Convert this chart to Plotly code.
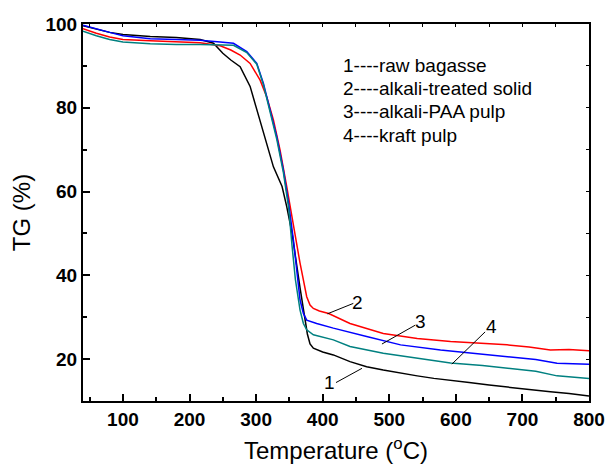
import plotly.graph_objects as go

# ---- data ----
t_raw = [40, 60, 80, 100, 141, 180, 216, 236, 250, 262, 276, 291, 306, 316, 326, 339, 346, 354,
         360, 366, 372, 377, 381, 386, 400, 416, 441, 466, 491, 517, 542, 567, 592, 620, 650,
         677, 710, 742, 770, 800]
tg_raw = [99.6, 98.8, 98.0, 97.5, 97.0, 96.8, 96.3, 95.4, 93.0, 91.4, 89.8, 85.1, 77.1, 71.6,
          65.9, 61.2, 56.4, 50.0, 43.0, 37.0, 31.0, 26.0, 23.6, 22.6, 21.7, 21.0, 19.4, 18.2,
          17.4, 16.6, 16.0, 15.4, 15.0, 14.4, 13.8, 13.3, 12.8, 12.2, 11.8, 11.2]

t_alk = [40, 60, 80, 100, 141, 180, 216, 246, 262, 276, 291, 306, 316, 326, 336, 346, 356, 366,
         376, 381, 386, 395, 409, 441, 491, 542, 592, 640, 677, 710, 742, 770, 800]
tg_alk = [98.9, 97.8, 96.9, 96.3, 96.0, 95.7, 95.5, 94.8, 93.8, 92.6, 90.6, 86.6, 82.6, 77.1,
          69.9, 61.2, 51.6, 42.9, 34.9, 32.9, 32.1, 31.5, 30.9, 28.5, 26.1, 24.9, 24.2, 23.8,
          23.4, 22.9, 22.2, 22.3, 22.0]

t_paa = [40, 60, 80, 100, 141, 180, 216, 246, 266, 286, 301, 311, 321, 331, 341, 349, 356, 361,
         366, 371, 376, 391, 416, 466, 517, 577, 640, 677, 720, 752, 800]
tg_paa = [99.7, 98.8, 98.0, 97.2, 96.5, 96.3, 96.1, 95.7, 95.4, 93.4, 90.6, 85.8, 79.5, 73.1,
          65.1, 57.0, 48.5, 41.0, 34.1, 30.9, 29.3, 28.5, 27.4, 25.4, 23.4, 22.2, 21.2, 20.6,
          19.9, 19.0, 18.8]

t_kraft = [40, 60, 80, 100, 141, 180, 216, 246, 266, 286, 301, 311, 321, 331, 341, 349, 354, 359,
           366, 371, 376, 386, 416, 441, 491, 542, 592, 640, 677, 720, 752, 800]
tg_kraft = [98.3, 97.2, 96.3, 95.7, 95.3, 95.1, 95.1, 95.0, 94.9, 93.2, 90.4, 85.5, 79.0, 72.5,
            64.5, 56.0, 47.0, 39.0, 31.7, 28.5, 27.0, 25.8, 24.6, 23.0, 21.4, 20.2, 19.1, 18.5,
            17.9, 17.1, 16.0, 15.4]

series_names = ["raw bagasse", "alkali-treated solid", "alkali-PAA pulp", "kraft pulp"]
series_colors = ["#000000", "#ff0000", "#0000ff", "#008080"]
series_t = [t_raw, t_alk, t_paa, t_kraft]
series_tg = [tg_raw, tg_alk, tg_paa, tg_kraft]

x_range = [40, 800]
y_range = [10, 100]

# labels "1".."4" and leader lines (data coords)
num_labels = ["1", "2", "3", "4"]
num_label_pos = [(410, 14.5), (452, 33.6), (546.6, 28.9), (653, 27.7)]
leader_lines = [((420, 14.4), (459, 17.8)), ((407, 30.8), (446, 33.3)),
                ((489, 23.6), (539, 28.1)), ((594, 18.8), (644, 26.5))]
legend_lines_y = [90.2, 84.7, 79.2, 73.5]
legend_x = 427

fig = go.Figure()
for t, tg, name, col in zip(series_t, series_tg, series_names, series_colors):
    fig.add_trace(go.Scatter(x=t, y=tg, mode="lines", name=name,
                             line=dict(color=col, width=1.5), showlegend=False))

# invisible trace to carry the mirrored (top/right) axes
fig.add_trace(go.Scatter(x=t_raw, y=tg_raw, xaxis="x2", yaxis="y2", mode="lines",
                         line=dict(width=0), opacity=0, showlegend=False, hoverinfo="skip"))

tick_font = dict(family="Liberation Sans, Arial", size=19, color="black", weight="bold")
title_font = dict(family="Liberation Sans, Arial", size=24, color="black")

fig.update_layout(
    width=606, height=464,
    margin=dict(l=83, r=17, t=24, b=63),
    paper_bgcolor="white", plot_bgcolor="white",
    xaxis=dict(range=x_range, showgrid=False, zeroline=False, showline=True, automargin=False,
               linecolor="black", linewidth=2, ticks="inside", ticklen=7, tickwidth=1.5,
               tickcolor="black", tick0=0, dtick=100, tickfont=tick_font,
               minor=dict(ticks="inside", ticklen=4, tickwidth=1.5, tickcolor="black", dtick=50),
               title=dict(text="Temperature (<sup>o</sup>C)", font=title_font, standoff=14)),
    yaxis=dict(range=y_range, showgrid=False, zeroline=False, showline=True, automargin=False,
               linecolor="black", linewidth=2, ticks="inside", ticklen=7, tickwidth=1.5,
               tickcolor="black", tick0=0, dtick=20, tickfont=tick_font,
               minor=dict(ticks="inside", ticklen=4, tickwidth=1.5, tickcolor="black", dtick=10),
               title=dict(text="TG (%)", font=title_font, standoff=8)),
    xaxis2=dict(range=x_range, overlaying="x", side="top", showgrid=False, zeroline=False,
                showline=True, linecolor="black", linewidth=2, ticks="inside", ticklen=3,
                tickwidth=1, tickcolor="black", tick0=0, dtick=50, showticklabels=False),
    yaxis2=dict(range=y_range, overlaying="y", side="right", showgrid=False, zeroline=False,
                showline=True, linecolor="black", linewidth=2, ticks="inside", ticklen=3,
                tickwidth=1, tickcolor="black", tick0=0, dtick=10, showticklabels=False),
)

text_font = dict(family="Liberation Sans, Arial", size=19, color="black")
for i, name in enumerate(series_names):
    fig.add_annotation(x=legend_x, y=legend_lines_y[i], xref="x", yref="y",
                       text=f"{i+1}----{name}", showarrow=False, xanchor="left",
                       yanchor="middle", font=text_font)

for lab, (lx, ly) in zip(num_labels, num_label_pos):
    fig.add_annotation(x=lx, y=ly, xref="x", yref="y", text=lab, showarrow=False,
                       xanchor="center", yanchor="middle", font=text_font)

for (p0, p1) in leader_lines:
    fig.add_shape(type="line", xref="x", yref="y", x0=p0[0], y0=p0[1], x1=p1[0], y1=p1[1],
                  line=dict(color="black", width=1))

fig.write_html("out.html", config={"displayModeBar": False},
               post_script="document.body.style.margin='0';document.body.style.overflow='hidden';")
